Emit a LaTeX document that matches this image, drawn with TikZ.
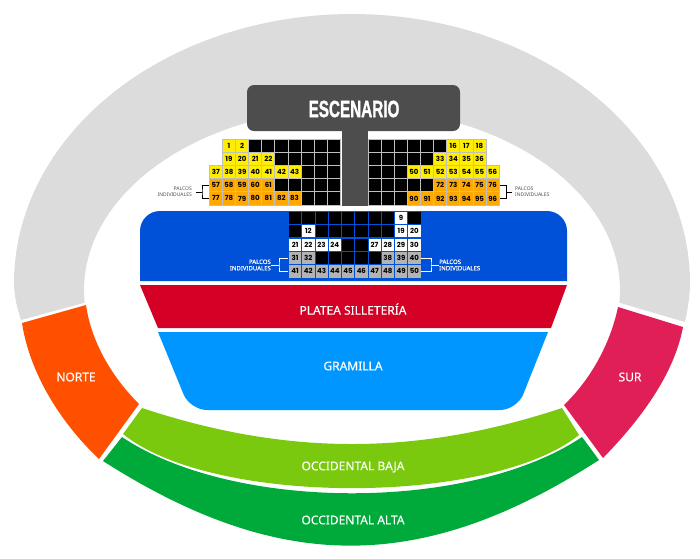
\documentclass[tikz,border=0pt]{standalone}
\usepackage{fontspec}
\setmainfont{Noto Sans}
\newfontfamily\seatfont{Poppins}[BoldFont={Poppins Bold}]
\newfontfamily\stagefont[BoldFeatures={FakeBold=1.5}]{Liberation Sans}
\newfontfamily\zonefont[FakeBold=.25]{Noto Sans}
\definecolor{standgrey}{HTML}{DCDCDC}
\definecolor{norteorange}{HTML}{FF5000}
\definecolor{surred}{HTML}{E01F56}
\definecolor{bajagreen}{HTML}{7AC90E}
\definecolor{altagreen}{HTML}{00AA3A}
\definecolor{vipblue}{HTML}{0050D8}
\definecolor{plateared}{HTML}{D40026}
\definecolor{gramilla}{HTML}{0096FF}
\definecolor{stagegrey}{HTML}{4D4D4D}
\definecolor{ylw}{HTML}{FFEE00}
\definecolor{org}{HTML}{FFA800}
\definecolor{boxgrey}{HTML}{B3B3B3}
\tikzset{
	seat/.style={minimum width=13.13pt,minimum height=13.2pt,inner sep=0pt,line width=.8pt,font=\seatfont\fontsize{7}{7}\bfseries\selectfont},
	topseat/.style={seat,draw=black!25},
	midseat/.style={seat,draw=vipblue},
	zone/.style={text=white,font=\zonefont\fontsize{12}{12}\selectfont},
	palco/.style={inner sep=0pt,align=left,font=\fontsize{5}{5.6}\selectfont},
}
\begin{document}
\begin{tikzpicture}[x=1pt,y=-1pt]
	\useasboundingbox (0,0) rectangle (700,558);
	\fill[standgrey] (21,320)..controls (17,308) and (14,295)..(14,283)--plot[smooth,samples=100,domain=180:0] ({352+338*cos(\x)},{283-269*sin(\x)})--(690,283)..controls (690,295) and (688,308)..(685,322)--plot[smooth,samples=100,domain=-4:184] ({352+268*cos(\x)},{290-182*sin(\x)})--cycle;
	\fill[norteorange] (22,323)..controls (30,375) and (62,424)..(99,459)--(139,404)..controls (110,375) and (91,340)..(86,305)--cycle;
	\fill[surred] (683,327)..controls (674,375) and (640,420)..(603,458)--(564,405)..controls (590,380) and (610,345)..(618,307)--cycle;
	\fill[bajagreen] (142,408)..controls (287,456) and (417,456)..(562,408)--(579,435)..controls (490,506) and (212,506)..(123,434)--cycle;
	\fill[altagreen] (122,437)..controls (234,512) and (470,512)..(582,437)--(599,460)..controls (422,574) and (280,574)..(103,461)--cycle;
	\fill[vipblue] (140,281)[rounded corners=20]--(140,211)--(567,211)[sharp corners]--(567,281)--cycle;
	\fill[plateared] (140,285)--(567,285)--(551,328)--(158,328)--cycle;
	\fill[gramilla] (158,332)--(548,332)[rounded corners=17]--(517,410)--(190,410)[sharp corners]--cycle;
	\fill[stagegrey] (342,125) rectangle (368,206);
	\fill[stagegrey,rounded corners=7] (247,85) rectangle (460,131);
	\node[text=white,font=\stagefont\fontsize{23.5}{23.5}\bfseries\selectfont] (escenario) at (354,109) {\scalebox{.65}[1]{ESCENARIO}};
	\node[zone] (norte) at (76,377) {NORTE};
	\node[zone] (sur) at (630,377) {SUR};
	\node[zone] (platea) at (353,309) {PLATEA SILLETERÍA};
	\node[zone] (gramillalbl) at (353,366) {GRAMILLA};
	\node[zone] (baja) at (353,467) {OCCIDENTAL BAJA};
	\node[zone] (alta) at (353,520) {OCCIDENTAL ALTA};
	\foreach \r/\a/\b in {0/3/9,1/5/9,2/7/9,3/5/9,4/7/9}
		\foreach \c in {\a,...,\b}
			\node[topseat,fill=black] (tl\r\c) at ({209.3+13.13*\c+6.5},{139+13.2*\r+6.6}) {};
	\foreach \r/\a/\b in {0/0/5,1/0/4,2/0/2,3/0/4,4/0/2}
		\foreach \c in {\a,...,\b}
			\node[topseat,fill=black] (tr\r\c) at ({368+13.13*\c+6.5},{139+13.2*\r+6.6}) {};
	\foreach \r/\c/\a/\b/\col in {0/1/1/2/ylw,1/1/19/22/ylw,2/0/37/43/ylw,3/0/57/61/org,4/0/77/83/org}
		\foreach \n in {\a,...,\b}{
			\pgfmathtruncatemacro\k{\c+\n-\a}
			\node[topseat,fill=\col] (t\n) at ({209.3+13.13*\k+6.5},{139+13.2*\r+6.6}) {\n};
		}
	\foreach \r/\c/\a/\b/\col in {0/6/16/18/ylw,1/5/33/36/ylw,2/3/50/56/ylw,3/5/72/76/org,4/3/90/96/org}
		\foreach \n in {\a,...,\b}{
			\pgfmathtruncatemacro\k{\c+\n-\a}
			\node[topseat,fill=\col] (t\n) at ({368+13.13*\k+6.5},{139+13.2*\r+6.6}) {\n};
		}
	\foreach \r/\c in {0/0,0/1,0/2,0/3,0/4,0/5,0/6,0/7,0/9,1/0,1/2,1/3,1/4,1/5,1/6,1/7,2/4,2/5,3/2,3/3,3/4,3/5,3/6}
		\node[midseat,fill=black] (m\r\c) at ({288.5+13.25*\c+6.6},{211+13.4*\r+6.7}) {};
	\foreach \n/\c/\r/\col in {9/8/0/white,12/1/1/white,19/8/1/white,20/9/1/white,21/0/2/white,22/1/2/white,23/2/2/white,24/3/2/white,27/6/2/white,28/7/2/white,29/8/2/white,30/9/2/white,31/0/3/boxgrey,32/1/3/boxgrey,38/7/3/boxgrey,39/8/3/boxgrey,40/9/3/boxgrey,41/0/4/boxgrey,42/1/4/boxgrey,43/2/4/boxgrey,44/3/4/boxgrey,45/4/4/boxgrey,46/5/4/boxgrey,47/6/4/boxgrey,48/7/4/boxgrey,49/8/4/boxgrey,50/9/4/boxgrey}
		\node[midseat,fill=\col] (b\n) at ({288.5+13.25*\c+6.6},{211+13.4*\r+6.7}) {\n};
	\node[palco,text=stagegrey,anchor=east,align=right] (palcotl) at (192,191.5) {PALCOS\\INDIVIDUALES};
	\node[palco,text=stagegrey,anchor=west] (palcotr) at (515,191.5) {PALCOS\\INDIVIDUALES};
	\node[palco,text=white,anchor=east,align=right,font=\zonefont\fontsize{6}{6.4}\selectfont] (palcoml) at (271,265) {PALCOS\\INDIVIDUALES};
	\node[palco,text=white,anchor=west,font=\zonefont\fontsize{6}{6.4}\selectfont] (palcomr) at (439,265) {PALCOS\\INDIVIDUALES};
	\coordinate (sqtl) at (202,192);
	\coordinate (sqtr) at (506,192);
	\coordinate (sqml) at (279,265);
	\coordinate (sqmr) at (431,265);
	\draw[line width=.8pt] (t57.west)-|(sqtl)|-(t77.west) (sqtl)--(196,192);
	\draw[line width=.8pt] (t76.east)-|(sqtr)|-(t96.east) (sqtr)--(512,192);
	\draw[white,line width=.8pt] (b31.west)-|(sqml)|-(b41.west) (sqml)--(palcoml.east);
	\draw[white,line width=.8pt] (b40.east)-|(sqmr)|-(b50.east) (sqmr)--(palcomr.west);
\end{tikzpicture}
\end{document}
